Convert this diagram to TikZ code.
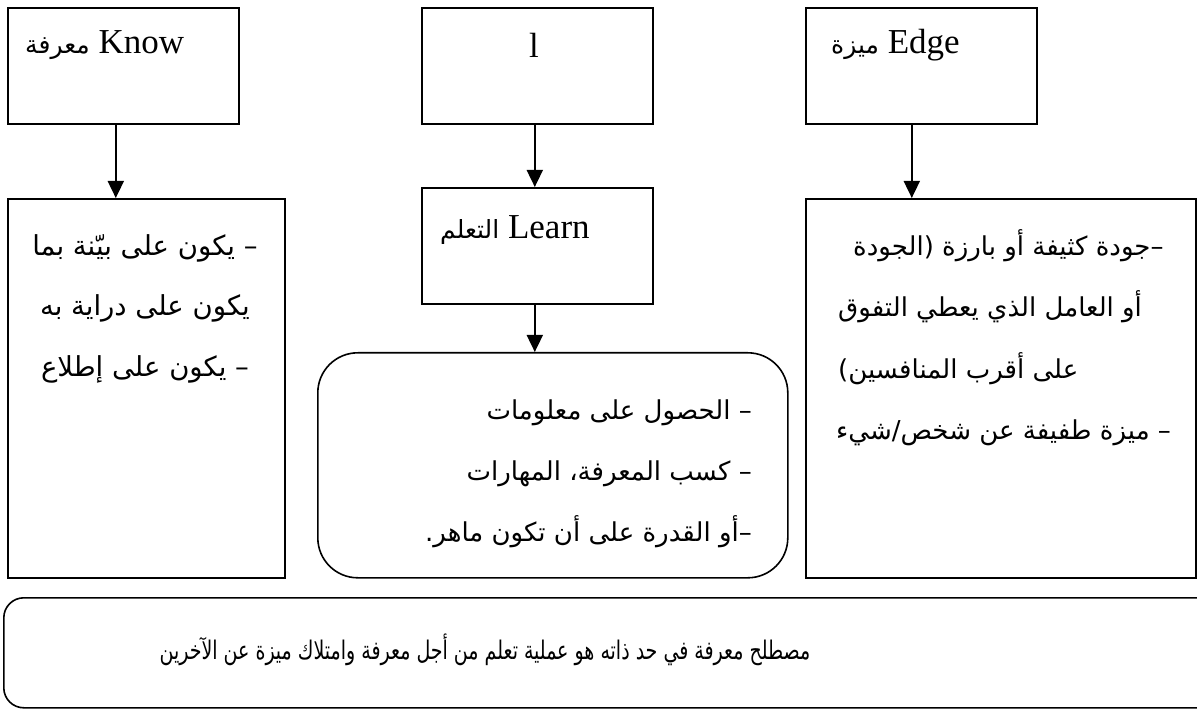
\documentclass[tikz,border=0pt]{standalone}
\usepackage{fontspec}
\setmainfont{Liberation Serif}
\newfontfamily\arabicfont[Script=Arabic]{DejaVu Sans}
\TeXXeTstate=1
\usetikzlibrary{arrows.meta}
\newcommand{\artxt}[1]{{\arabicfont\beginR #1\endR}}
\newcommand{\arlbl}[1]{{\arabicfont\fontsize{25}{28}\selectfont\beginR #1\endR}}

\begin{document}
\begin{tikzpicture}[x=1pt,y=-1pt,
  frame/.style={draw, line width=1.6pt, inner sep=0pt, anchor=north west},
  link/.style={line width=1.8pt, -{Triangle[width=16pt,length=17pt]}},
  term/.style={font=\fontsize{35}{40}\selectfont, inner sep=0pt},
  arline/.style={font=\arabicfont\fontsize{26}{30}\selectfont, inner sep=0pt},
  arwide/.style={font=\arabicfont\fontsize{27.5}{30}\selectfont, inner sep=0pt},
  summary/.style={font=\arabicfont\fontsize{19}{24}\selectfont, inner sep=0pt},
]
\useasboundingbox (0,0) rectangle (1197,711);
\clip (0,0) rectangle (1197,711);

% top row: the three parts of the word
\node[frame, minimum width=231pt, minimum height=116pt] (knowbox) at (7,7) {};
\node[frame, minimum width=231pt, minimum height=116pt] (lbox) at (421,7) {};
\node[frame, minimum width=231pt, minimum height=116pt] (edgebox) at (805,7) {};

\node[term, anchor=west] (knowlbl) at (25,45) {\arlbl{معرفة} Know};
\node[term, anchor=center] (llbl) at (534,45) {l};
\node[term, anchor=west] (edgelbl) at (831,45) {\arlbl{ميزة} Edge};

% second row
\node[frame, minimum width=277pt, minimum height=379pt] (knowdef) at (7,198) {};
\node[frame, minimum width=231pt, minimum height=116pt] (learnbox) at (421,187) {};
\node[frame, minimum width=390pt, minimum height=379pt] (edgedef) at (805,198) {};
\node[frame, rounded corners=40pt, minimum width=470pt, minimum height=225pt] (learndef) at (317,352) {};

\node[term, anchor=west] (learnlbl) at (440,230) {\arlbl{التعلم} Learn};

% definitions of "know"
\node[arwide, anchor=base] (kd1) at (145,256) {\artxt{– يكون على بيّنة بما}};
\node[arwide, anchor=base] (kd2) at (145,316) {\artxt{يكون على دراية به}};
\node[arwide, anchor=base] (kd3) at (145,377) {\artxt{– يكون على إطلاع}};

% definitions of "learn"
\node[arline, anchor=base east] (ld1) at (752,419) {\artxt{– الحصول على معلومات}};
\node[arline, anchor=base east] (ld2) at (752,480) {\artxt{– كسب المعرفة، المهارات}};
\node[arline, anchor=base east] (ld3) at (752,541) {\artxt{–أو القدرة على أن تكون ماهر.}};

% definitions of "edge"
\node[arline, anchor=base west] (ed1) at (853,256) {\artxt{–جودة كثيفة أو بارزة (الجودة}};
\node[arline, anchor=base west] (ed2) at (838,317) {\artxt{أو العامل الذي يعطي التفوق}};
\node[arline, anchor=base west] (ed3) at (838,378) {\artxt{على أقرب المنافسين)}};
\node[arline, anchor=base west] (ed4) at (836,439) {\artxt{– ميزة طفيفة عن شخص/شيء}};

% connectors
\draw[link] ([xshift=-7.5pt]knowbox.south) -- ([xshift=-7.5pt]knowbox.south |- knowdef.north);
\draw[link] ([xshift=-2.5pt]lbox.south) -- ([xshift=-2.5pt]learnbox.north);
\draw[link] ([xshift=-2.5pt]learnbox.south) -- ([xshift=-2.5pt]learnbox.south |- learndef.north);
\draw[link] ([xshift=-9.5pt]edgebox.south) -- ([xshift=-9.5pt]edgebox.south |- edgedef.north);

% closing statement
\node[frame, rounded corners=20pt, minimum width=1227pt, minimum height=110pt] (sumbox) at (3,597) {};
\node[summary, anchor=center] (sumtxt) at (485,650) {\scalebox{1}[1.35]{\artxt{مصطلح معرفة في حد ذاته هو عملية تعلم من أجل معرفة وامتلاك ميزة عن الآخرين}}};
\end{tikzpicture}
\end{document}
